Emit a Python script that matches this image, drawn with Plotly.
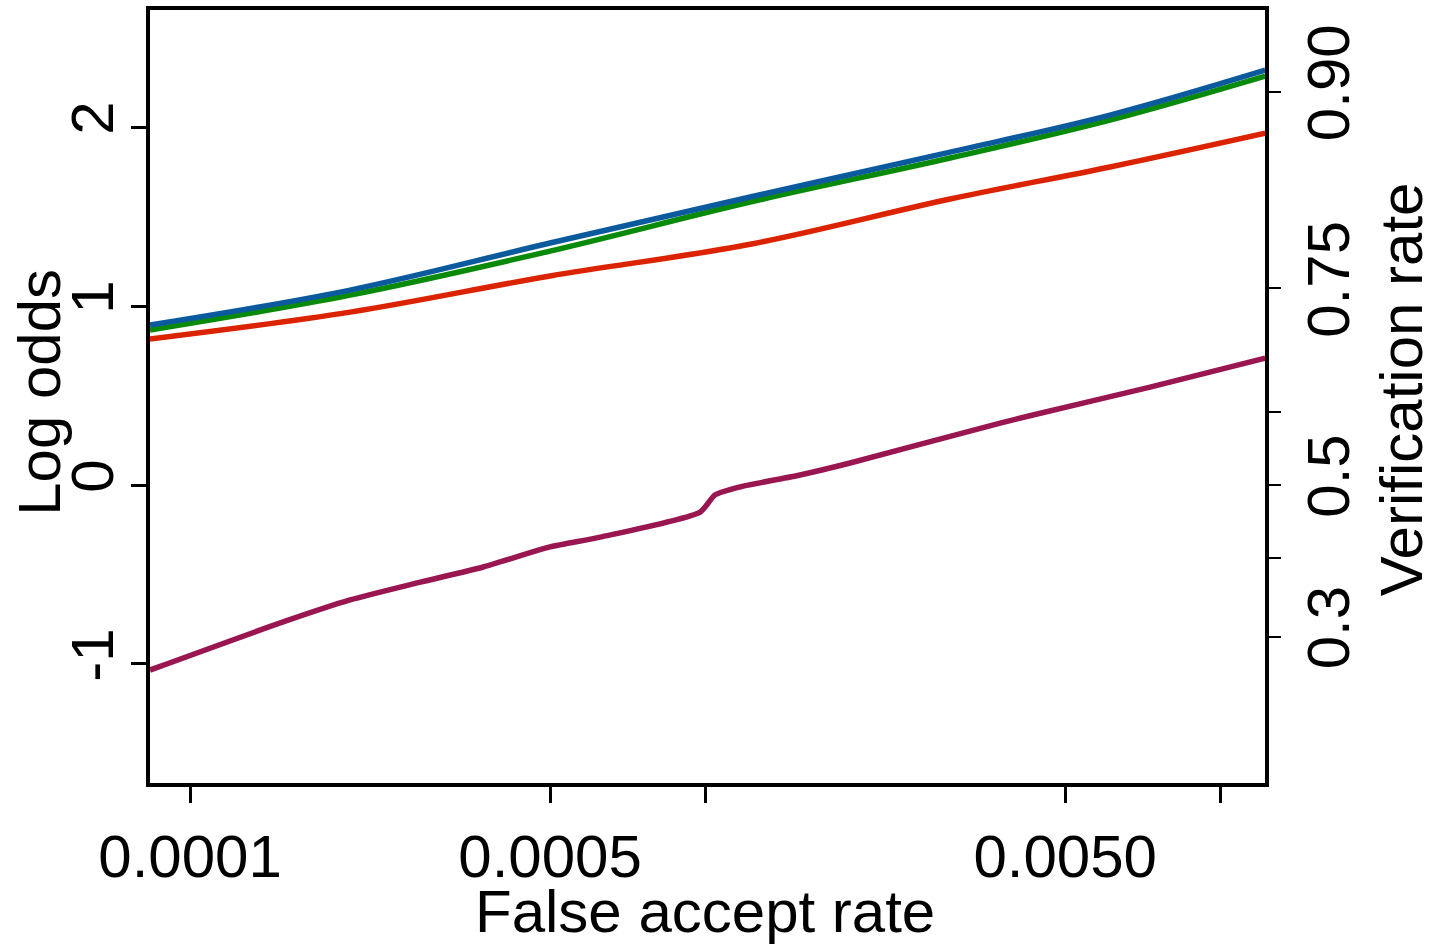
import numpy as np
import plotly.graph_objects as go

# False accept rate (x) values
far_upper = [8.36e-5, 2.045e-4, 5.0e-4, 1.223e-3, 2.99e-3, 6.11e-3, 1.223e-2]
blue_lo = [0.894, 1.089, 1.352, 1.609, 1.860, 2.067, 2.318]
green_lo = [0.866, 1.061, 1.307, 1.581, 1.827, 2.039, 2.285]
red_lo = [0.816, 0.966, 1.168, 1.345, 1.598, 1.777, 1.966]

far_purple = [8.36e-5, 1.516e-4, 2.045e-4, 2.76e-4, 3.71e-4, 5.0e-4, 6.25e-4,
              9.78e-4, 1.045e-3, 1.169e-3, 1.529e-3, 1.912e-3, 3.74e-3,
              4.33e-3, 7.31e-3, 1.223e-2]
purple_lo = [-1.034, -0.765, -0.642, -0.547, -0.458, -0.346, -0.291,
             -0.151, -0.056, -0.011, 0.056, 0.123, 0.346,
             0.391, 0.547, 0.709]

x_tickvals = [1e-4, 5e-4, 1e-3, 5e-3, 1e-2]
x_ticktext = ["0.0001", "0.0005", "", "0.0050", ""]
y_tickvals = [-1, 0, 1, 2]
y_ticktext = ["-1", "0", "1", "2"]
rate_ticks = [0.3, 0.4, 0.5, 0.6, 0.75, 0.9]
rate_text = ["0.3", "", "0.5", "", "0.75", "0.90"]

FONT = "Liberation Sans, Arial, sans-serif"
FS = 60

fig = go.Figure()
lw = 5.5
fig.add_trace(go.Scatter(x=far_purple, y=purple_lo, mode="lines",
                         line=dict(color="#991650", width=lw, shape="spline", smoothing=0.6),
                         showlegend=False))
fig.add_trace(go.Scatter(x=far_upper, y=red_lo, mode="lines",
                         line=dict(color="#dc2300", width=lw, shape="spline", smoothing=1),
                         showlegend=False))
fig.add_trace(go.Scatter(x=far_upper, y=green_lo, mode="lines",
                         line=dict(color="#0a8a0a", width=lw, shape="spline", smoothing=1),
                         showlegend=False))
fig.add_trace(go.Scatter(x=far_upper, y=blue_lo, mode="lines",
                         line=dict(color="#0b5a9e", width=lw, shape="spline", smoothing=1),
                         showlegend=False))

yr = [-1.665, 2.654]
logit = [float(np.log(p / (1 - p))) for p in rate_ticks]

fig.update_layout(
    width=1437, height=945,
    margin=dict(l=150, r=172, t=10, b=162, autoexpand=False),
    paper_bgcolor="white", plot_bgcolor="white",
    font=dict(family=FONT, size=FS, color="black"),
    xaxis=dict(type="log", range=[-4.0777, -1.913], automargin=False,
               tickvals=x_tickvals, ticktext=x_ticktext,
               ticks="outside", ticklen=16, tickwidth=3, tickcolor="black",
               showline=True, linewidth=4, linecolor="black", mirror=True,
               showgrid=False, zeroline=False,
               ticklabelstandoff=2,
               tickfont=dict(size=FS)),
    yaxis=dict(range=yr, tickvals=y_tickvals, ticktext=y_ticktext,
               tickangle=-90, automargin=False,
               ticks="outside", ticklen=15, tickwidth=3, tickcolor="black",
               showline=True, linewidth=4, linecolor="black", mirror=True,
               showgrid=False, zeroline=False,
               ticklabelstandoff=-6,
               tickfont=dict(size=FS)),
    yaxis2=dict(range=yr, overlaying="y", side="right", anchor="x",
                tickvals=logit, ticktext=rate_text, tickangle=-90, automargin=False,
                ticks="outside", ticklen=15, tickwidth=2, tickcolor="black",
                showline=False, showgrid=False, zeroline=False,
                ticklabelstandoff=-4,
                tickfont=dict(size=FS)),
    annotations=[
        dict(text="False accept rate", xref="paper", yref="paper",
             x=0.4978, y=-0.166, xanchor="center", yanchor="middle",
             showarrow=False, font=dict(size=FS, family=FONT)),
        dict(text="Log odds", xref="paper", yref="paper", textangle=-90,
             x=-0.0987, y=0.506, xanchor="center", yanchor="middle",
             showarrow=False, font=dict(size=FS, family=FONT)),
        dict(text="Verification rate", xref="paper", yref="paper", textangle=-90,
             x=1.1225, y=0.509, xanchor="center", yanchor="middle",
             showarrow=False, font=dict(size=FS, family=FONT)),
    ],
)
# invisible trace to activate the right axis
fig.add_trace(go.Scatter(x=[far_upper[0]], y=[0], yaxis="y2", mode="markers",
                         marker=dict(opacity=0), showlegend=False, hoverinfo="skip"))

fig.write_html("out.html")
